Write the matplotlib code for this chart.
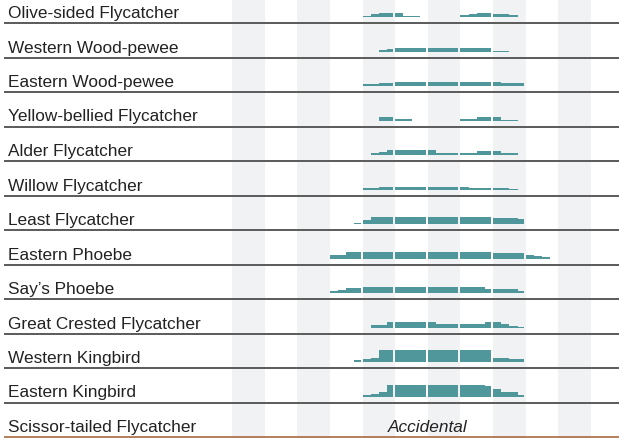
import numpy as np
import matplotlib.pyplot as plt

plt.rcParams['font.family'] = ['Liberation Sans', 'DejaVu Sans']

# species shown, top to bottom
species = [
    "Olive-sided Flycatcher",
    "Western Wood-pewee",
    "Eastern Wood-pewee",
    "Yellow-bellied Flycatcher",
    "Alder Flycatcher",
    "Willow Flycatcher",
    "Least Flycatcher",
    "Eastern Phoebe",
    "Say\u2019s Phoebe",
    "Great Crested Flycatcher",
    "Western Kingbird",
    "Eastern Kingbird",
    "Scissor-tailed Flycatcher",
]

# weekly abundance (48 weeks a year, 4 per month), (first week, values)
olive_sided = (16, [1, 3, 4.5, 4.5, 3.7, 1, 1, 0, 0, 0, 0, 0, 2, 3, 4, 4, 3, 3, 1.7])
western_wood_pewee = (18, [1.7, 2.7, 4, 4, 4, 4, 4, 4, 4, 4, 4, 4, 4, 4, 1, 1])
eastern_wood_pewee = (16, [1.7, 1.7, 3, 3, 4, 4, 4, 4, 4, 4, 4, 4, 4, 4, 4, 4, 4, 3, 3, 3])
yellow_bellied = (18, [4, 4, 2, 2, 0, 0, 0, 0, 0, 0, 2, 2, 4, 4, 4, 1, 1])
alder = (17, [2, 3, 5, 5, 5, 5, 5, 5, 2, 2, 2, 2, 2, 4, 4, 4, 2, 2])
willow = (16, [1.7, 1.7, 2.3, 2.3, 3, 3, 3, 3, 3, 3, 3, 3, 3, 2, 2, 2, 2, 2, 1])
least = (15, [1.3, 4, 7, 7, 7, 7, 7, 7, 7, 7, 7, 7, 7, 7, 7, 7, 7, 6, 6, 6, 5])
eastern_phoebe = (12, [4, 4, 7, 7, 7, 7, 7, 7, 7, 7, 7, 7, 7, 7, 7, 7, 7, 7, 7, 7,
                       6, 6, 6, 6, 4, 2.5, 1.5])
says_phoebe = (12, [2, 3, 5, 5, 6, 6, 6, 6, 6, 6, 6, 6, 6, 6, 6, 6, 6, 6, 6, 4, 4, 4, 4, 2])
great_crested = (17, [3, 3, 5.5, 5.5, 5.5, 5.5, 5.5, 5.5, 3.7, 3.7, 3.7, 3.7, 3.7, 3.7,
                      5.5, 5.5, 3.7, 1.7, 1])
western_kingbird = (15, [1.7, 2.7, 3.7, 11.7, 11.7, 11.7, 11.7, 11.7, 11.7, 11.7, 11.7,
                         11.7, 11.7, 11.7, 11.7, 11.7, 11.7, 3.7, 3.7, 2.7, 2.7])
eastern_kingbird = (16, [1.7, 2.7, 4.7, 11.7, 11.7, 11.7, 11.7, 11.7, 11.7, 11.7, 11.7,
                         11.7, 11.7, 11.7, 11.7, 10.7, 7.7, 4.7, 4.7, 1.7])
scissor_tailed = None  # accidental

abundance = [olive_sided, western_wood_pewee, eastern_wood_pewee, yellow_bellied,
             alder, willow, least, eastern_phoebe, says_phoebe, great_crested,
             western_kingbird, eastern_kingbird, scissor_tailed]

# layout (pixels)
W = 8.16      # px per week
ROW = 34.5    # px per row
X0 = 232      # where January starts
Y0 = 24       # first separator line
bar_color = '#50979b'
band_color = '#f1f2f4'

fig = plt.figure(figsize=(6.19, 4.39), dpi=100)
ax = fig.add_axes([0, 0, 1, 1])
ax.set_xlim(-X0 / W, (619 - X0) / W)
ax.set_ylim((439 - Y0) / ROW, -Y0 / ROW)
ax.axis('off')

# shaded months (Jan, Mar, May, ...)
for m in range(0, 12, 2):
    ax.axvspan(m * 4, m * 4 + 4, color=band_color, zorder=0, lw=0)

gap = 2 / W
for i, name in enumerate(species):
    base = i - 6 / ROW
    ax.text(-224 / W, base, name, fontsize=12.4, color='#222222', va='baseline')
    if i < len(species) - 1:
        ax.hlines(i, -228 / W, 48, color='#5a5a5a', lw=1.4, zorder=3)
    else:
        ax.hlines(i, -228 / W, 48, color='#a8693f', lw=1.2, zorder=3)
    data = abundance[i]
    if data is None:
        ax.text(24, base, 'Accidental', fontsize=12.4, style='italic',
                color='#222222', ha='center', va='baseline')
        continue
    start, vals = data
    weeks = np.arange(start, start + len(vals))
    vals = np.array(vals)
    widths = np.where(weeks % 4 == 3, 1 - gap, 1)
    ax.bar(weeks, -vals / ROW, width=widths, bottom=base, align='edge',
           color=bar_color, lw=0, zorder=2)

fig.savefig('out.png', dpi=100)
